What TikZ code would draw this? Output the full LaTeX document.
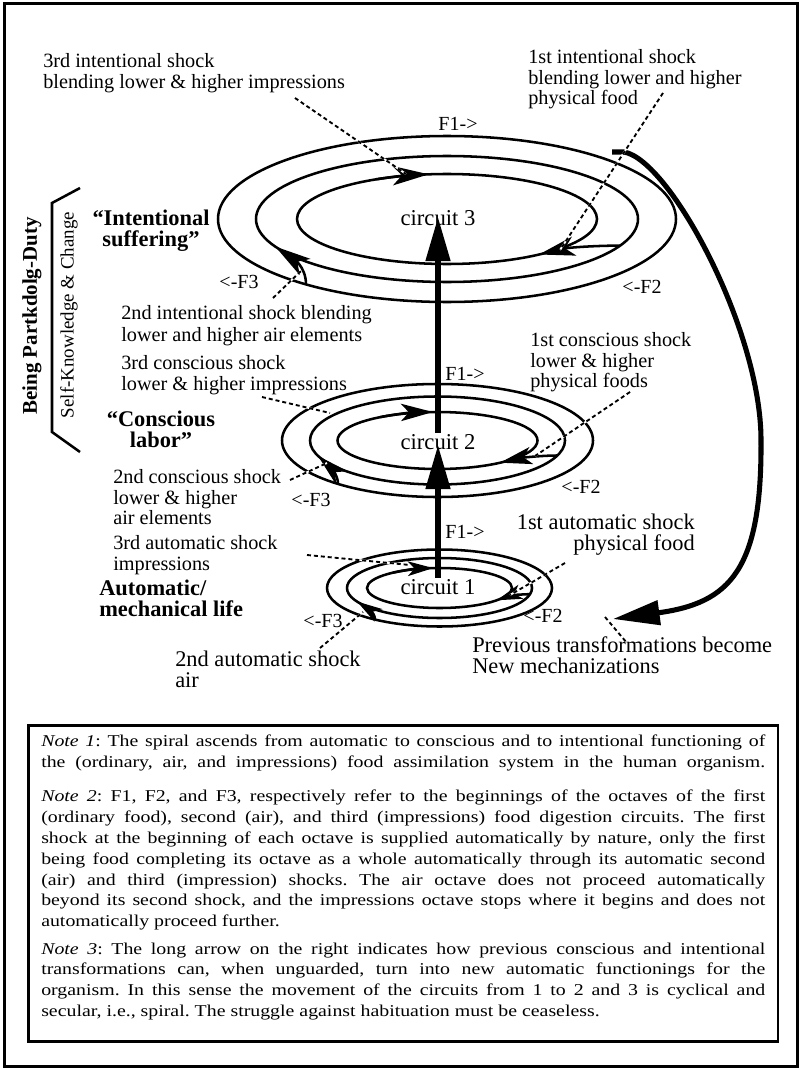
\documentclass[tikz,border=0pt]{standalone}
\usepackage{fontspec}
\setmainfont{Liberation Serif}
\newfontfamily\notefont[FakeStretch=1.2]{Liberation Serif}
\usetikzlibrary{arrows.meta,calc}
\begin{document}
\begin{tikzpicture}[x=0.75pt,y=-0.75pt,
  ring/.style={line width=1.9pt},
  flowA/.style={line width=1.9pt,-{Stealth[length=27pt,width=14.5pt,inset=7pt]}},
  flowB/.style={line width=1.9pt,-{Stealth[length=24pt,width=13pt,inset=6pt]}},
  flowC/.style={line width=1.9pt,-{Stealth[length=19pt,width=11pt,inset=5pt]}},
  bigarrow/.style={line width=3.8pt,-{Triangle[length=33pt,width=18pt]}},
  backarrow/.style={line width=3.8pt,-{Triangle[length=35pt,width=18pt]}},
  shock/.style={line width=1.4pt,dash pattern=on 3pt off 2.2pt,
     preaction={draw=white,line width=1.4pt,solid}},
  lbl/.style={anchor=north west,inner sep=0pt,align=left,
     font=\fontsize{15.2pt}{15.6pt}\selectfont},
  biglbl/.style={inner sep=0pt,font=\fontsize{16.8pt}{15.8pt}\selectfont},
  boldlbl/.style={inner sep=0pt,font=\bfseries\fontsize{16.8pt}{15.6pt}\selectfont},
  circ/.style={inner sep=1pt,font=\fontsize{17pt}{17pt}\selectfont},
  flab/.style={inner sep=0pt,font=\fontsize{15pt}{15pt}\selectfont},
]
\useasboundingbox (0,0) rectangle (801,1070);

% outer frame
\draw[line width=2.25pt] (4,4) rectangle (797,1066);

% centres of the three circuits
\coordinate (c3ctr) at (447,219);
\coordinate (c2ctr) at (437.5,440.5);
\coordinate (c1ctr) at (439.5,588);

% circuit 3 rings
\draw[ring] (c3ctr) ellipse [x radius=229, y radius=83];
\draw[ring] (c3ctr) ellipse [x radius=191, y radius=63];
\draw[ring] (c3ctr) ellipse [x radius=150, y radius=45];
% circuit 2 rings
\draw[ring] (c2ctr) ellipse [x radius=155.5, y radius=56.5];
\draw[ring] (c2ctr) ellipse [x radius=127.5, y radius=44];
\draw[ring] (c2ctr) ellipse [x radius=100, y radius=28.5];
% circuit 1 rings
\draw[ring] (c1ctr) ellipse [x radius=112.5, y radius=38.5];
\draw[ring] (c1ctr) ellipse [x radius=92.5, y radius=30];
\draw[ring] (c1ctr) ellipse [x radius=72.5, y radius=20];

% circuit labels
\node[circ] (c3) at (438,218) {circuit 3};
\node[circ] (c2) at (438,442) {circuit 2};
\node[circ] (c1) at (438,587) {circuit 1};

% ascent between circuits
\draw[bigarrow,shorten >=-7.5pt] (c2.north) -- (c3.south);
\draw[bigarrow,shorten >=-4.5pt] (c1.north) -- (c2.south);

% F1 heads on the inner rings
\draw[flowA] ($(c3ctr)+(-118:150 and 45)$) arc[start angle=-118,end angle=-97,x radius=150,y radius=45];
\draw[flowB] ($(c2ctr)+(-125:100 and 28.5)$) arc[start angle=-125,end angle=-92.6,x radius=100,y radius=28.5];
\draw[flowC] ($(c1ctr)+(-130:72.5 and 20)$) arc[start angle=-130,end angle=-95,x radius=72.5,y radius=20];

% F2: middle ring into inner ring
\coordinate (c3f2s) at (620,245.6); \coordinate (c3f2t) at (539,254.5);
\draw[flowA] (c3f2s) .. controls (595,245.6) and (568,247.6) .. (c3f2t);
\coordinate (c2f2s) at (557.3,455.5); \coordinate (c2f2t) at (500,462.7);
\draw[flowB] (c2f2s) .. controls (542,455.5) and (521.5,457.8) .. (c2f2t);
\coordinate (c1f2s) at (530,594.2); \coordinate (c1f2t) at (496.8,600.3);
\draw[flowC] (c1f2s) .. controls (522,594.2) and (510,595.6) .. (c1f2t);

% F3: outer ring into middle ring
\coordinate (c3f3s) at (306,284.4); \coordinate (c3f3t) at (275.3,246.6);
\draw[flowA] (c3f3s) .. controls (306,266) and (292,258) .. (c3f3t);
\coordinate (c2f3s) at (338,483.9); \coordinate (c2f3t) at (318,455.9);
\draw[flowB] (c2f3s) .. controls (338,474) and (329,466) .. (c2f3t);
\coordinate (c1f3s) at (375,619.5); \coordinate (c1f3t) at (357.1,601.6);
\draw[flowC] (c1f3s) .. controls (375,612) and (365.5,607) .. (c1f3t);

% long return arrow on the right
\coordinate (backs) at (612,152);
\coordinate (backt) at (613,619);
\draw[backarrow] (backs) -- (624,152) .. controls (670,160) and (761,330) .. (761,440)
   .. controls (762,570) and (730,603) .. (backt);

% shock lines
\coordinate (s3ia) at (295,98);  \coordinate (s3ib) at (406,174);
\coordinate (s1ia) at (663,93);  \coordinate (s1ib) at (560,250);
\coordinate (s2ia) at (273,298); \coordinate (s2ib) at (301,271);
\coordinate (s3ca) at (262,397); \coordinate (s3cb) at (330,413);
\coordinate (s2ca) at (290,480); \coordinate (s2cb) at (327,463);
\coordinate (s1ca) at (630,392); \coordinate (s1cb) at (535,456);
\coordinate (s3aa) at (307,555); \coordinate (s3ab) at (410,565);
\coordinate (s2aa) at (320,648); \coordinate (s2ab) at (363,612);
\coordinate (s1aa) at (565,563); \coordinate (s1ab) at (510,595);
\coordinate (spa) at (605,617);  \coordinate (spb) at (627,643);
\foreach \a/\b in {s3ia/s3ib,s1ia/s1ib,s2ia/s2ib,s3ca/s3cb,s2ca/s2cb,
                   s1ca/s1cb,s3aa/s3ab,s2aa/s2ab,s1aa/s1ab,spa/spb}
  \draw[shock] (\a) -- (\b);

% octave markers
\node[flab] (f1c3) at (458,124) {F1->};
\node[flab] (f3c3) at (239,282) {<-F3};
\node[flab] (f2c3) at (642,287) {<-F2};
\node[flab] (f1c2) at (465,374) {F1->};
\node[flab] (f3c2) at (311,500) {<-F3};
\node[flab] (f2c2) at (581,487) {<-F2};
\node[flab] (f1c1) at (465,532) {F1->};
\node[flab] (f3c1) at (323,621) {<-F3};
\node[flab] (f2c1) at (543,616) {<-F2};

% shock labels
\node[lbl,font=\fontsize{15.2pt}{16pt}\selectfont] (l3int) at (43,53) {3rd intentional shock\\blending lower \& higher impressions};
\node[lbl] (l1int) at (528,49) {1st intentional shock\\blending lower and higher\\physical food};
\node[lbl,font=\fontsize{15.2pt}{16.3pt}\selectfont] (l2int) at (121,305) {2nd intentional shock blending\\lower and higher air elements};
\node[lbl] (l3con) at (121,355) {3rd conscious shock\\lower \& higher impressions};
\node[lbl] (l2con) at (113,469) {2nd conscious shock\\lower \& higher\\air elements};
\node[lbl] (l1con) at (530,332) {1st conscious shock\\lower \& higher\\physical foods};
\node[lbl] (l3aut) at (113,535) {3rd automatic shock\\impressions};
\node[biglbl,anchor=north east,align=right] (l1aut) at (695,514) {1st automatic shock\\physical food};
\node[biglbl,anchor=north west,align=left] (l2aut) at (175,651) {2nd automatic shock\\air};
\node[biglbl,anchor=north west,align=left] (prev) at (472,636) {Previous transformations become\\New mechanizations};

% levels
\node[boldlbl,anchor=north,align=center] (intsuf) at (151,210) {“Intentional\\suffering”};
\node[boldlbl,anchor=north,align=center] (conlab) at (161,411) {“Conscious\\labor”};
\node[boldlbl,anchor=north west,align=left] (automech) at (99,580) {Automatic/\\mechanical life};

% side bracket
\draw[line width=1.9pt] (80,188) -- (52,203) -- (52,432) -- (80,452);
\node[rotate=90,inner sep=0pt,font=\bfseries\fontsize{15.7pt}{16pt}\selectfont] (duty) at (32,316) {Being Partkdolg-Duty};
\node[rotate=90,inner sep=0pt,font=\fontsize{14.2pt}{15pt}\selectfont] (selfk) at (69,315) {Self-Knowledge \& Change};

% notes
\draw[line width=1.9pt] (28.5,725.5) rectangle (778,1041.5);
\node[anchor=north west,inner sep=0pt,align=left,
      font=\notefont\fontsize{12.4pt}{15.6pt}\selectfont\frenchspacing] (notes) at (41,735) {%
\makebox[543pt][s]{\textit{Note 1}: The spiral ascends from automatic to conscious and to intentional functioning of}\\
\makebox[543pt][s]{the (ordinary, air, and impressions) food assimilation system in the human organism.}\\[10pt]
\makebox[543pt][s]{\textit{Note 2}: F1, F2, and F3, respectively refer to the beginnings of the octaves of the first}\\
\makebox[543pt][s]{(ordinary food), second (air), and third (impressions) food digestion circuits. The first}\\
\makebox[543pt][s]{shock at the beginning of each octave is supplied automatically by nature, only the first}\\
\makebox[543pt][s]{being food completing its octave as a whole automatically through its automatic second}\\
\makebox[543pt][s]{(air) and third (impression) shocks. The air octave does not proceed automatically}\\
\makebox[543pt][s]{beyond its second shock, and the impressions octave stops where it begins and does not}\\
automatically proceed further.\\[5pt]
\makebox[543pt][s]{\textit{Note 3}: The long arrow on the right indicates how previous conscious and intentional}\\
\makebox[543pt][s]{transformations can, when unguarded, turn into new automatic functionings for the}\\
\makebox[543pt][s]{organism. In this sense the movement of the circuits from 1 to 2 and 3 is cyclical and}\\
secular, i.e., spiral. The struggle against habituation must be ceaseless.};
\end{tikzpicture}
\end{document}
